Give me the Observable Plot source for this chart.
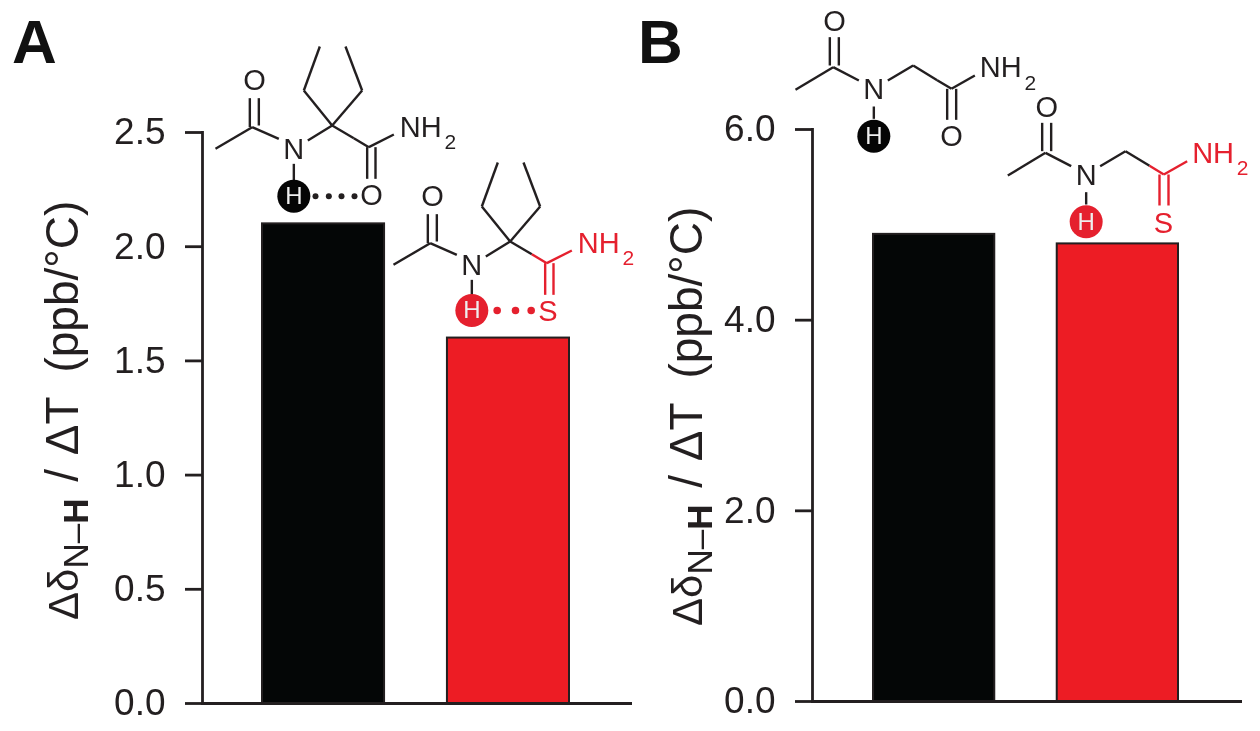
<!DOCTYPE html>
<html><head><meta charset="utf-8">
<script src="https://cdn.jsdelivr.net/npm/d3@7"></script>
<script src="https://cdn.jsdelivr.net/npm/@observablehq/plot@0.6"></script>
<style>
html,body{margin:0;padding:0;background:#fff}
#stage{position:relative;width:1260px;height:731px;overflow:hidden}
#stage svg{position:absolute;background:transparent;max-width:none}
</style></head><body><div id="stage"></div>
<script>
const categories = ["Oxoamide", "Thioamide"];
const valuesA = [2.1, 1.6];
const valuesB = [4.9, 4.8];
const ticksA = [0, 0.5, 1, 1.5, 2, 2.5];
const ticksB = [0, 2, 4, 6];
const barColors = ["#040606", "#ed1c24"];
const panelLetters = ["A", "B"];
const FONT = "Liberation Sans, Arial, sans-serif";
const INK = "#231f20", RED = "#e5202e";

function panel({values, ticks, top, marginLeft, width, bottom, domainMax, range, marginRight}) {
  const table = categories.map((c, i) => ({c, v: values[i], color: barColors[i]}));
  return Plot.plot({
    width, height: 731, marginLeft, marginTop: top,
    marginBottom: 731 - bottom, marginRight,
    style: {background: "transparent"},
    x: {type: "band", domain: categories, range, paddingInner: 0.34, paddingOuter: 0, axis: null, round: false},
    y: {domain: [0, domainMax], label: null},
    marks: [
      Plot.barY(table, {x: "c", y: "v", fill: "color", stroke: INK, strokeWidth: 2}),
      Plot.frame({anchor: "left", stroke: INK, strokeWidth: 2.8}),
      Plot.ruleY([0], {stroke: INK, strokeWidth: 2.8}),
      Plot.axisY({ticks, tickFormat: d3.format(".1f"), tickSize: 17, tickPadding: 20, fontSize: 37,
        fontFamily: FONT, color: INK, strokeWidth: 2.8, label: null, anchor: "left"})
    ]
  });
}

const stage = document.getElementById("stage");
const pA = panel({values: valuesA, ticks: ticksA, top: 132, marginLeft: 202, width: 640, bottom: 703, domainMax: 2.5, range: [262, 569], marginRight: 8});
pA.style.left = "0px"; pA.style.top = "0px"; stage.append(pA);
const pB = panel({values: valuesB, ticks: ticksB, top: 129, marginLeft: 182, width: 630, bottom: 701, domainMax: 6, range: [243, 548], marginRight: 18});
pB.style.left = "630px"; pB.style.top = "0px"; stage.append(pB);

function yLabel(svg, x, y) {
  const t = d3.select(svg).append("text")
    .attr("transform", `translate(${x},${y}) rotate(-90)`)
    .attr("text-anchor", "start")
    .attr("font-family", FONT).attr("font-size", 46).attr("fill", INK);
  t.append("tspan").attr("font-size", 42).text("Δδ");
  t.append("tspan").attr("dy", 10).attr("font-size", 35).text("N–");
  t.append("tspan").attr("font-size", 35).attr("font-weight", "bold").text("H");
  t.append("tspan").attr("dy", -10).attr("dx", 4).text("\u00a0/");
  t.append("tspan").attr("dx", 1).text("\u00a0ΔT");
  t.append("tspan").attr("dx", 11).text("\u00a0(ppb/°C)");
}
yLabel(pA, 78, 620);
yLabel(pB, 72, 626);

// Structural formulae (overlay, in the picture's own pixel frame, written at 3x)
const bondsAib = [
  [75,355,185,290,0],[185,290,265,325,0],[178,290,178,203,0],[205,285,205,203,0],
  [352,330,425,285,0],[425,285,340,180,0],[340,180,388,48,0],[425,285,515,180,0],[515,180,465,48,0],
  [425,285,490,323,0],[490,323,535,350,1],[535,350,610,312,1],[530,350,530,445,1],[555,350,555,445,1],[310,400,310,450,0]];
const atomsAib = [["O",192,152,0],["N",310,358,0]];
const startAib = [["NH",628,292,1,29],["2",762,335,1,21]];
const bondsGly = [
  [15,268,128,200,0],[128,200,205,240,0],[118,195,118,110,0],[145,195,145,110,0],
  [292,240,368,195,0],[368,195,440,239,0],[440,239,483,265,1],[483,265,553,225,1],[470,265,470,358,1],[497,265,497,358,1],[250,318,250,355,0]];
const atomsGly = [["O",132,65,0],["N",250,268,0]];
const startGly = [["NH",568,202,1,29],["2",702,247,1,21]];

const links = [], texts = [], startTexts = [], dots = [], dotted = [];
function place(bonds, atoms, starts, ox, oy, dx, dy, hue, sulfur, hbond, hx, hy, sx, sy) {
  const X = v => ox + (v + dx) / 3, Y = v => oy + (v + dy) / 3;
  for (const [x1,y1,x2,y2,s] of bonds) links.push({x1:X(x1),y1:Y(y1),x2:X(x2),y2:Y(y2),c:s?hue:INK});
  for (const [t,x,y,s] of atoms) texts.push({t,x:X(x),y:Y(y),c:s?hue:INK,f:29});
  for (const [t,x,y,s,f] of starts) startTexts.push({t,x:X(x),y:Y(y),c:s?hue:INK,f});
  dots.push({x:X(hx),y:Y(hy),c:hue===INK?"#050505":RED});
  texts.push({t:"H",x:X(hx),y:Y(hy),c:"#eee",f:24});
  texts.push({t:sulfur,x:X(sx),y:Y(sy),c:hue,f:29});
  if (hbond) for (const zx of hbond) dotted.push({x:X(zx),y:Y(hy),c:hue,r:hue===INK?1.9:3});
}
place(bondsAib, atomsAib, startAib, 190, 30, 0, 0, INK, "O", [375,415,453,492], 310, 497, 543, 497);
place(bondsAib, atomsAib, startAib, 190, 30, 534, 348, RED, "S", [386,441,488], 310, 492, 538, 497);
place(bondsGly, atomsGly, startGly, 790, 0, 0, 0, INK, "O", null, 250, 407, 483, 408);
place(bondsGly, atomsGly, startGly, 790, 0, 637, 257, RED, "S", null, 250, 407, 482, 412);

const overlay = Plot.plot({
  width: 1260, height: 731, margin: 0,
  style: {background: "transparent"},
  x: {type: "identity", axis: null}, y: {type: "identity", axis: null},
  marks: [
    Plot.link(links, {x1:"x1",y1:"y1",x2:"x2",y2:"y2",stroke:"c",strokeWidth:2.4}),
    Plot.dot(dots, {x:"x",y:"y",r:16.5,fill:"c"}),
    Plot.dot(dotted, {x:"x",y:"y",r:"r",fill:"c"}),
    Plot.text(texts, {x:"x",y:"y",text:"t",fill:"c",textAnchor:"middle",fontSize:d=>d.f,fontFamily:FONT}),
    Plot.text(startTexts, {x:"x",y:"y",text:"t",fill:"c",textAnchor:"start",fontSize:d=>d.f,fontFamily:FONT}),
    Plot.text(panelLetters, {x:[34,660],y:[43,43],text:d=>d,fontSize:62,fontWeight:"bold",fontFamily:FONT,fill:"#111"})
  ]
});
overlay.style.left = "0px"; overlay.style.top = "0px"; stage.append(overlay);
stage.style.filter = "blur(0.7px)";
</script></body></html>
